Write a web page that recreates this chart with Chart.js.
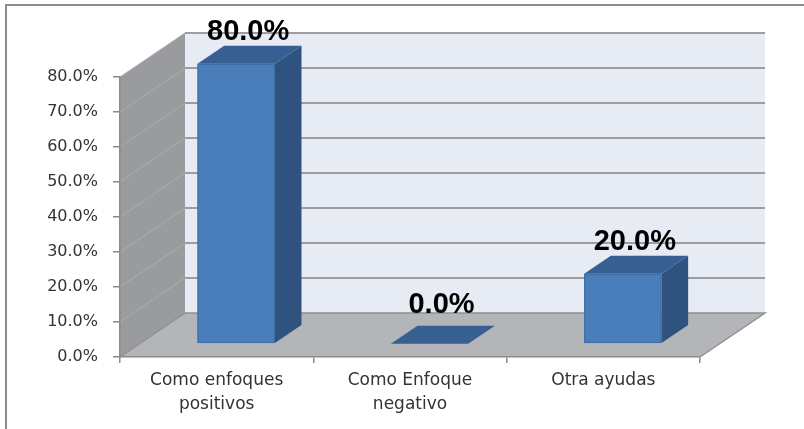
<!DOCTYPE html>
<html>
<head>
<meta charset="utf-8">
<script src="https://cdn.jsdelivr.net/npm/chart.js@4/dist/chart.umd.min.js"></script>
<style>
  html, body { margin: 0; padding: 0; background: #fff; }
  #wrap { position: relative; width: 804px; height: 429px; overflow: hidden; }
  #frame { position: absolute; left: 5px; top: 4px; width: 820px; height: 440px;
           border-top: 2px solid #8c8c8c; border-left: 2px solid #8c8c8c; pointer-events: none; }
  canvas { position: absolute; left: 0; top: 0; }
</style>
</head>
<body>
<div id="wrap">
  <canvas id="myChart" width="804" height="429"></canvas>
  <div id="frame"></div>
</div>
<script>
// chart data
const categories = [['Como enfoques', 'positivos'], ['Como Enfoque', 'negativo'], 'Otra ayudas'];
const values = [80, 0, 20];
const yMax = 80;
const yStep = 10;

// depth of the fake 3d box (pixels) and where bars sit in it
const DX = 65, DY = -44;
const F1 = 0.3, F2 = 0.71;

const fmt = v => v.toFixed(1) + '%';

function poly(ctx, pts, fill) {
  ctx.beginPath();
  ctx.moveTo(pts[0][0], pts[0][1]);
  for (let i = 1; i < pts.length; i++) ctx.lineTo(pts[i][0], pts[i][1]);
  ctx.closePath();
  ctx.fillStyle = fill;
  ctx.fill();
}

const box3d = {
  id: 'box3d',
  beforeDraw(chart) {
    const {ctx, chartArea: a, scales: {y}} = chart;
    const L = a.left, R = a.right;
    const B = y.getPixelForValue(0), T = y.getPixelForValue(yMax);
    ctx.save();
    // back wall
    poly(ctx, [[L + DX, T + DY], [R + DX, T + DY], [R + DX, B + DY], [L + DX, B + DY]], '#e7ebf4');
    // side wall
    poly(ctx, [[L, B], [L, T], [L + DX, T + DY], [L + DX, B + DY]], '#9a9b9e');
    // floor
    poly(ctx, [[L, B], [R, B], [R + DX, B + DY], [L + DX, B + DY]], '#b3b5b8');
    // grid lines
    for (let v = yStep; v <= yMax; v += yStep) {
      const py = y.getPixelForValue(v);
      ctx.strokeStyle = '#acadb0';
      ctx.lineWidth = 1;
      ctx.beginPath();
      ctx.moveTo(L, py); ctx.lineTo(L + DX, py + DY);
      ctx.stroke();
      ctx.strokeStyle = '#9c9da0';
      ctx.lineWidth = 2;
      ctx.beginPath();
      ctx.moveTo(L + DX, py + DY); ctx.lineTo(R + DX, py + DY);
      ctx.stroke();
    }
    // floor edges
    ctx.strokeStyle = '#8f9093';
    ctx.lineWidth = 1.5;
    ctx.beginPath();
    ctx.moveTo(L, B); ctx.lineTo(L + DX, B + DY); ctx.lineTo(R + DX, B + DY); ctx.lineTo(R, B);
    ctx.stroke();
    ctx.restore();
  },
  afterDatasetsDraw(chart) {
    const {ctx} = chart;
    const meta = chart.getDatasetMeta(0);
    const bx = DX * (F2 - F1), by = DY * (F2 - F1);
    ctx.save();
    meta.data.forEach((bar, i) => {
      const left = bar.x - bar.width / 2 + DX * F1;
      const right = bar.x + bar.width / 2 + DX * F1;
      const top = bar.y + DY * F1;
      const bottom = bar.base + DY * F1;
      // side
      poly(ctx, [[right, top], [right + bx, top + by], [right + bx, bottom + by], [right, bottom]], '#30527f');
      // front
      if (bottom - top > 0.5) {
        poly(ctx, [[left, top], [right, top], [right, bottom], [left, bottom]], '#4a7ebb');
        ctx.strokeStyle = '#3d6ba3';
        ctx.lineWidth = 1;
        ctx.strokeRect(left + 0.5, top + 0.5, right - left - 1, bottom - top - 1);
      }
      // top
      poly(ctx, [[left, top], [right, top], [right + bx, top + by], [left + bx, top + by]], '#385f91');
      // value label
      ctx.fillStyle = '#000';
      ctx.font = 'bold 29px "Liberation Sans", Arial, sans-serif';
      ctx.textAlign = 'center';
      ctx.textBaseline = 'middle';
      const cx = (left + right) / 2 + 12;
      const ly = i === 1 ? top + by - 21 : top + by - 14;
      ctx.fillText(fmt(values[i]), cx, ly);
    });
    ctx.restore();
  }
};

const ctx = document.getElementById('myChart');

new Chart(ctx, {
  type: 'bar',
  data: {
    labels: categories,
    datasets: [{
      data: values,
      backgroundColor: 'rgba(0,0,0,0)',
      borderWidth: 0,
      categoryPercentage: 1,
      barPercentage: 0.4
    }]
  },
  options: {
    responsive: false,
    animation: false,
    events: [],
    layout: { padding: { top: 77, right: 104, left: 0, bottom: 0 } },
    plugins: { legend: { display: false }, tooltip: { enabled: false } },
    scales: {
      x: {
        afterFit: s => { s.height = 72; },
        grid: { drawOnChartArea: false, tickLength: 6, color: '#8a8a8a', lineWidth: 1.5 },
        border: { color: '#8a8a8a', width: 1.5 },
        ticks: {
          padding: 6,
          color: '#333',
          font: { family: '"DejaVu Sans", sans-serif', size: 17, lineHeight: 1.38 },
          maxRotation: 0
        }
      },
      y: {
        min: 0,
        max: yMax,
        afterFit: s => { s.width = 120; },
        grid: { drawOnChartArea: false, tickLength: 7, color: '#8a8a8a', lineWidth: 1.5 },
        border: { color: '#8a8a8a', width: 1.5 },
        ticks: {
          stepSize: yStep,
          padding: 15,
          color: '#333',
          font: { family: '"DejaVu Sans", sans-serif', size: 16 },
          callback: v => fmt(v)
        }
      }
    }
  },
  plugins: [box3d]
});
</script>
</body>
</html>
